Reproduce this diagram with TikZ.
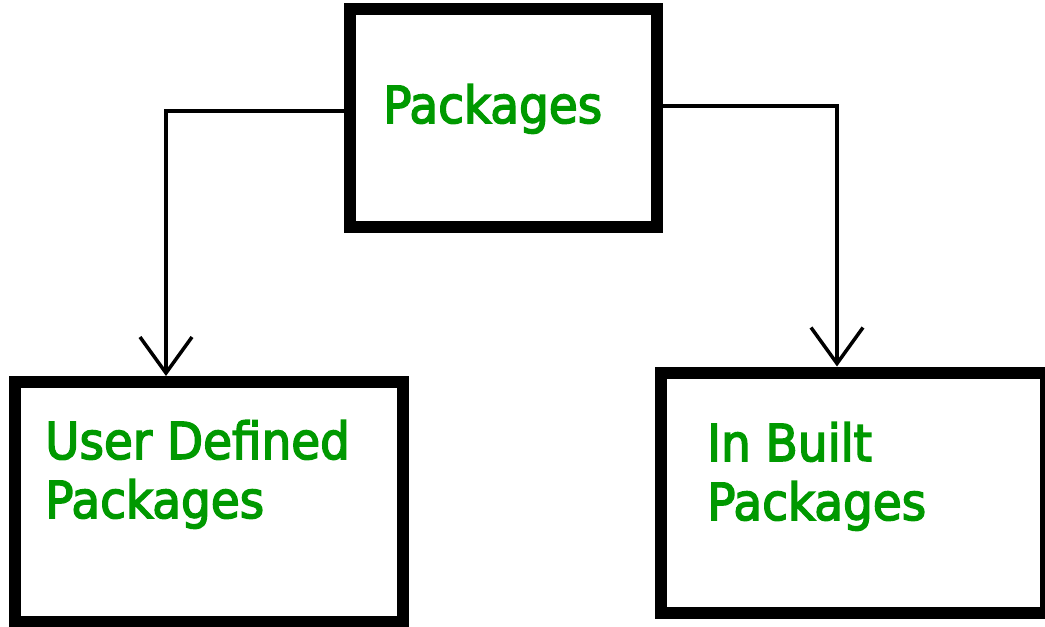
\documentclass[tikz,border=0pt]{standalone}
\usepackage{fontspec}
\setmainfont{DejaVu Sans}
\newfontfamily\pkgfont{DejaVu Sans}[FakeBold=3, FakeStretch=0.92]
\usetikzlibrary{positioning,arrows.meta}
\definecolor{pkggreen}{RGB}{0,153,0}
\begin{document}
\begin{tikzpicture}[x=1pt, y=-1pt,
    box/.style ={draw, line width=12pt, inner sep=0pt},
    txt/.style ={text=pkggreen, align=left, inner sep=0pt, font=\pkgfont\fontsize{51pt}{59pt}\selectfont},
    arr/.style ={line width=3.5pt, -{Straight Barb[length=36pt, width=52pt, line width=3.5pt]}}]
    \useasboundingbox (0,0) rectangle (1045,627);
    \node[box, minimum width=307pt, minimum height=218pt] (pkg) at (503,118) {};
    \node[box, minimum width=388pt, minimum height=240pt] (user) at (209,502) {};
    \node[box, minimum width=385pt, minimum height=240pt] (inbuilt) at (853.5,492.5) {};
    \node[txt, anchor=base west] (pkgtext) at (383,123) {Packages};
    \node[txt, anchor=base west] (usertext) at (45,518) {User Defined\\Packages};
    \node[txt, anchor=base west] (inbuilttext) at (707,520) {In Built\\Packages};
    \draw[arr] ([yshift=7pt]pkg.west) -| ([xshift=-43pt]user.north);
    \draw[arr] ([yshift=12pt]pkg.east) -| ([xshift=-16.5pt]inbuilt.north);
\end{tikzpicture}
\end{document}
